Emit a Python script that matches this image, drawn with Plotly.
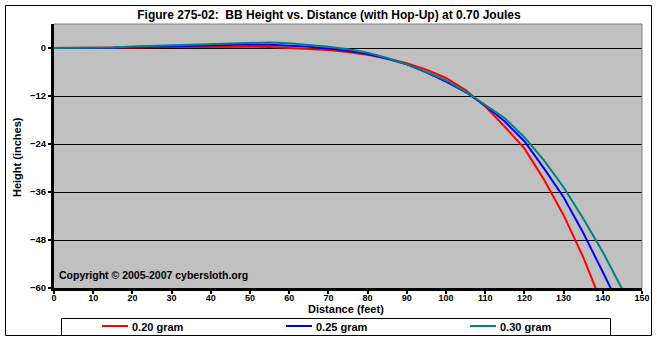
import plotly.graph_objects as go

# Distances (feet) and heights (inches)
dist_020 = [0, 5, 10, 15, 20, 25, 30, 35, 40, 45, 50, 55, 60, 65, 70, 75, 80, 85, 90, 95, 100, 105, 110, 115, 120, 125, 130, 135, 138.2, 140]
h_020 = [0, 0, 0, 0.1, 0.15, 0.2, 0.25, 0.3, 0.3, 0.3, 0.3, 0.25, 0.05, -0.2, -0.5, -1.0, -1.7, -2.6, -3.8, -5.4, -7.5, -10.5, -14.6, -19.7, -25.1, -32.9, -41.8, -52.3, -60, -64.5]

dist_025 = [0, 5, 10, 15, 20, 25, 30, 35, 40, 45, 50, 55, 60, 65, 70, 75, 80, 85, 90, 95, 100, 105, 110, 115, 120, 125, 130, 135, 140, 142, 143]
h_025 = [0, 0, 0, 0.05, 0.25, 0.35, 0.5, 0.65, 0.75, 0.85, 0.85, 0.8, 0.6, 0.3, -0.1, -0.7, -1.5, -2.7, -4.1, -6.1, -8.4, -11.0, -14.4, -18.4, -23.3, -30.1, -37.3, -46.2, -56.0, -60, -62]

dist_030 = [0, 5, 10, 15, 20, 25, 30, 35, 40, 45, 50, 55, 60, 65, 70, 75, 80, 85, 90, 95, 100, 105, 110, 115, 120, 125, 130, 135, 140, 145]
h_030 = [0, 0, 0, 0.1, 0.35, 0.5, 0.65, 0.85, 1.0, 1.2, 1.35, 1.4, 1.2, 0.8, 0.3, -0.3, -1.2, -2.5, -4.1, -6.0, -8.1, -10.9, -14.2, -17.6, -22.3, -28.1, -34.8, -42.6, -51.0, -60.4]

series_names = ["0.20 gram", "0.25 gram", "0.30 gram"]
series_colors = ["#FF0000", "#0000FF", "#008080"]

x_ticks = list(range(0, 151, 10))
y_ticks = [-60, -48, -36, -24, -12, 0]

FONT = "Liberation Sans"

fig = go.Figure()
for xs, ys, name, color in zip([dist_020, dist_025, dist_030], [h_020, h_025, h_030], series_names, series_colors):
    fig.add_trace(go.Scatter(x=xs, y=ys, mode="lines", name=name, showlegend=False,
                             line=dict(color=color, width=2)))

W, H = 657, 340
L, R, T, B = 54, 15, 24, 52
pw, ph = W - L - R, H - T - B

def px2x(px):
    return (px - L) / pw

def py2y(py):
    return (H - B - py) / ph

fig.update_layout(
    width=W, height=H,
    margin=dict(l=L, r=R, t=T, b=B, autoexpand=False),
    paper_bgcolor="white",
    plot_bgcolor="#C0C0C0",
    font=dict(family=FONT, color="black", size=10, weight="bold"),
    title=dict(text="Figure 275-02:  BB Height vs. Distance (with Hop-Up) at 0.70 Joules",
               x=px2x(329), xref="paper", xanchor="center", y=1 - 15 / H, yanchor="middle",
               font=dict(family=FONT, size=12, color="black", weight="bold")),
    xaxis=dict(range=[0, 150], tickvals=x_ticks, ticks="outside", ticklen=3, tickwidth=2,
               tickcolor="black", showline=True, linecolor="black", linewidth=3,
               showgrid=False, zeroline=False, automargin=False, ticklabelstandoff=-4,
               tickfont=dict(family=FONT, size=9, weight="bold")),
    yaxis=dict(range=[-60, 6], tickvals=y_ticks, ticks="outside", ticklen=3, tickwidth=2,
               tickcolor="black", showline=True, linecolor="black", linewidth=3,
               showgrid=True, gridcolor="black", gridwidth=1, zeroline=False, automargin=False,
               tickfont=dict(family=FONT, size=9.5, weight="bold")),
    showlegend=False,
)

shapes = [
    # outer chart border
    dict(type="rect", xref="paper", yref="paper", x0=px2x(5.5), x1=px2x(651.5), y0=py2y(335.5), y1=py2y(5.5),
         line=dict(color="black", width=1), layer="below"),
    # legend box
    dict(type="rect", xref="paper", yref="paper", x0=px2x(61.5), x1=px2x(610.5), y0=py2y(335.5), y1=py2y(318.5),
         line=dict(color="black", width=1)),
    # plot area top and right border (gray)
    dict(type="line", xref="paper", yref="paper", x0=0, x1=1, y0=1, y1=1, line=dict(color="#808080", width=1)),
    dict(type="line", xref="paper", yref="paper", x0=1, x1=1, y0=0, y1=1, line=dict(color="#808080", width=1)),
]

# legend entries (manual)
legend_starts = [102, 286, 470]
for start, name, color in zip(legend_starts, series_names, series_colors):
    shapes.append(dict(type="line", xref="paper", yref="paper", x0=px2x(start), x1=px2x(start + 26),
                       y0=py2y(326), y1=py2y(326), line=dict(color=color, width=2)))
    fig.add_annotation(text=name, xref="paper", yref="paper", x=px2x(start + 28), y=py2y(326.5),
                       xanchor="left", yanchor="middle", showarrow=False,
                       font=dict(family=FONT, size=11, color="black", weight="bold"))

fig.update_layout(shapes=shapes)

# axis titles
fig.add_annotation(text="Distance (feet)", xref="paper", yref="paper", x=px2x(346), y=py2y(308.5),
                   xanchor="center", yanchor="middle", showarrow=False,
                   font=dict(family=FONT, size=11, color="black", weight="bold"))
fig.add_annotation(text="Height (inches)", xref="paper", yref="paper", x=px2x(17), y=py2y(157),
                   xanchor="center", yanchor="middle", showarrow=False, textangle=-90,
                   font=dict(family=FONT, size=11, color="black", weight="bold"))

fig.add_annotation(text="Copyright \u00a9 2005-2007 cybersloth.org", xref="paper", yref="paper",
                   x=px2x(57), y=py2y(275), xanchor="left", yanchor="middle", showarrow=False,
                   font=dict(family=FONT, size=10.5, color="black", weight="bold"))

fig.write_html("out.html")
